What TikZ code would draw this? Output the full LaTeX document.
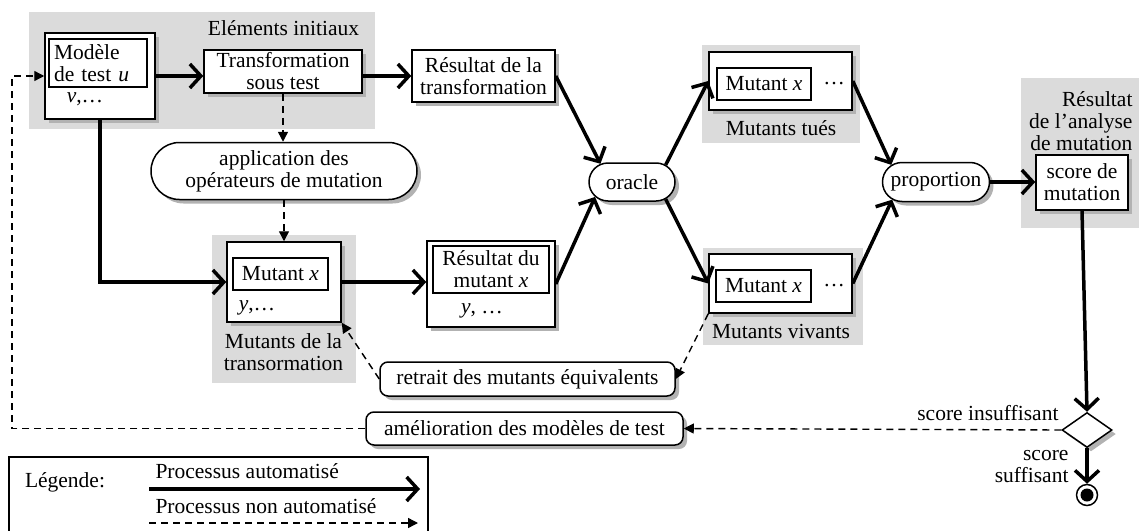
\documentclass[tikz,border=0pt]{standalone}
\usepackage{fontspec}
\setmainfont{Liberation Serif}
\usetikzlibrary{arrows.meta,shapes.geometric,shapes.misc,shadows}
\definecolor{fond}{gray}{0.86}
\tikzset{
  ombre/.style={drop shadow={shadow xshift=4pt, shadow yshift=-4pt, fill=gray!60, opacity=1}},
  boite/.style={draw, line width=1.5pt, fill=white, inner sep=1pt, align=center, ombre},
  interne/.style={draw, line width=1.2pt, fill=white, inner sep=1pt, align=center},
  activite/.style={rounded rectangle, draw, line width=1.5pt, fill=white, inner sep=1pt, align=center, ombre},
  action/.style={rectangle, rounded corners=8pt, draw, line width=1.5pt, fill=white, inner sep=1pt, ombre},
  auto/.style={line width=3.5pt, -{Straight Barb[length=11pt,width=24pt]}},
  manuel/.style={line width=1.4pt, dash pattern=on 7pt off 5pt, -{Triangle[length=10pt,width=10pt]}}
}
\begin{document}
\begin{tikzpicture}[x=1pt, y=-1pt, font=\fontsize{21.5}{22}\selectfont]
\useasboundingbox (0,0) rectangle (1139,530);
% fonds gris
\path [fill=fond] (29,12) rectangle (375,129);
\path [fill=fond] (212,235) rectangle (356,383);
\path [fill=fond] (702,45) rectangle (860,143);
\path [fill=fond] (703,248) rectangle (863,345);
\path [fill=fond] (1021,78) rectangle (1139,228);

\node (titreinit) at (283.5,28) {Eléments initiaux};
\node [boite, minimum width=110pt, minimum height=86pt] (modele) at (100,76) {};
\node [interne, minimum width=98pt, minimum height=48pt, text width=88pt, align=left] (modin) at (98,63) {Modèle\\de test \textit{u}};
\node (modv) at (85,99) {\textit{v},\ldots};
\node [boite, minimum width=158pt, minimum height=43pt] (trans) at (283,71.5) {Transformation\\sous test};
\node [boite, minimum width=143pt, minimum height=52pt] (restrans) at (483.5,76) {Résultat de la\\transformation};
\node [activite, minimum width=268pt, minimum height=57pt] (appli) at (284,171) {application des\\opérateurs de mutation};

\node [boite, minimum width=114pt, minimum height=80pt] (mutbox) at (284,282) {};
\node [interne, minimum width=95pt, minimum height=32pt] (mutin) at (280.5,274) {Mutant \textit{x}};
\node (muty) at (257,308) {\textit{y},\ldots};
\node [align=center] (mutlabel) at (283.5,352) {Mutants de la\\transormation};

\node [boite, minimum width=128pt, minimum height=86pt] (resmut) at (491,284) {};
\node [interne, minimum width=116pt, minimum height=47pt] (resmutin) at (491,269.5) {Résultat du\\mutant \textit{x}};
\node (resmuty) at (482,311) {\textit{y}, \ldots};

\node [activite, minimum width=88pt, minimum height=38pt] (oracle) at (632,182) {oracle};

\node [boite, minimum width=143pt, minimum height=58pt] (tues) at (780.5,81) {};
\node [interne, minimum width=94pt, minimum height=32pt] (tuesin) at (764,84) {Mutant \textit{x}};
\node (tuesdots) at (834,84) {\ldots};
\node (tueslabel) at (781,128) {Mutants tués};

\node [boite, minimum width=143pt, minimum height=59pt] (viv) at (780.5,283.5) {};
\node [interne, minimum width=95pt, minimum height=32pt] (vivin) at (763.5,286) {Mutant \textit{x}};
\node (vivdots) at (834,286) {\ldots};
\node (vivlabel) at (781,331) {Mutants vivants};

\node [activite, minimum width=109pt, minimum height=39pt] (proportion) at (936,182) {proportion};
\node [align=right, anchor=east] (reslabel) at (1136,121) {Résultat\\de l'analyse\\de mutation};
\node [boite, minimum width=92pt, minimum height=55pt] (score) at (1082,182.5) {score de\\mutation};

\node [diamond, draw, line width=1.5pt, fill=white, minimum width=50pt, minimum height=35pt, inner sep=0pt, ombre] (decision) at (1087,430) {};
\node [circle, draw, line width=1.5pt, fill=white, minimum size=21pt, inner sep=0pt] (fin) at (1087,495) {};
\node [circle, fill, minimum size=13pt, inner sep=0pt] (finpoint) at (fin) {};
\node [anchor=east] (insuff) at (1062,413) {score insuffisant};
\node [anchor=east, align=right] (suff) at (1072,467) {score\\suffisant};

\node [action, minimum width=295pt, minimum height=34pt] (retrait) at (527.5,379) {retrait des mutants équivalents};
\node [action, minimum width=317pt, minimum height=33pt] (amelio) at (524.5,428.5) {amélioration des modèles de test};
\coordinate (coinret) at (12,0);

% processus automatises
\draw [auto] (modele.east) -- (modele.east -| trans.west);
\draw [auto] (trans.east |- restrans.west) -- (restrans.west);
\draw [auto] (restrans.east) -- (oracle.150);
\draw [auto] (modele.south) |- (mutbox.west);
\draw [auto] (mutbox.east) -- (mutbox.east -| resmut.west);
\draw [auto] (resmut.east) -- (oracle.202);
\draw [auto] (oracle.27) -- (tues.west);
\draw [auto] (oracle.-27) -- (viv.west);
\draw [auto] (tues.east) -- (proportion.159);
\draw [auto] (viv.east) -- (proportion.202);
\draw [auto] (proportion.east) -- (score.west |- proportion.east);
\draw [auto] (score.south) -- (decision.north);
\draw [auto] (decision.south) -- (fin.north);

% processus non automatises
\draw [manuel] (trans.south) -- (appli.north -| trans.south);
\draw [manuel] (appli.south -| mutbox.north) -- (mutbox.north);
\draw [manuel] (viv.south west) -- (retrait.east);
\draw [manuel] (retrait.west) -- (mutbox.south east);
\draw [manuel] (decision.west) -- (amelio.east);
\draw [manuel] (amelio.west) -- (amelio.west -| coinret) |- (modele.west);

% legende
\draw [line width=1.2pt] (9,545) -- (9,457) -- (428,457) -- (428,545);
\node (legende) at (65,482) {Légende:};
\node [anchor=west] (legauto) at (152,471) {Processus automatisé};
\node [anchor=west] (legmanuel) at (152,506) {Processus non automatisé};
\coordinate (legA1) at (149,489);
\coordinate (legA2) at (420,489);
\coordinate (legM1) at (149,523);
\coordinate (legM2) at (418,523);
\draw [auto] (legA1) -- (legA2);
\draw [manuel] (legM1) -- (legM2);
\end{tikzpicture}
\end{document}
